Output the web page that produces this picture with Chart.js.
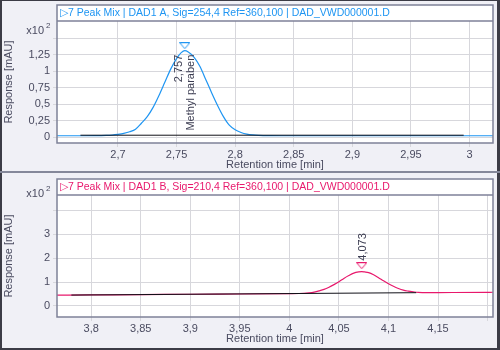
<!DOCTYPE html>
<html>
<head>
<meta charset="utf-8">
<script src="https://cdn.jsdelivr.net/npm/chart.js@4/dist/chart.umd.min.js"></script>
<style>
  body { margin: 0; background: #f0f0f6; }
  #wrap { position: relative; width: 500px; height: 350px; overflow: hidden; background: #f0f0f6; }
  canvas { position: absolute; left: 0; }
  #sigA { top: 0; }
  #sigB { top: 174px; }
  .edge { position: absolute; background: #3c3c46; }
</style>
</head>
<body>
<div id="wrap">
  <canvas id="sigA" width="500" height="174"></canvas>
  <canvas id="sigB" width="500" height="174"></canvas>
  <div class="edge" style="left:0;top:0;width:500px;height:1px"></div>
  <div class="edge" style="left:0;top:0;width:2px;height:350px"></div>
  <div class="edge" style="left:497px;top:0;width:3px;height:350px"></div>
  <div class="edge" style="left:0;top:348px;width:500px;height:2px"></div>
  <div class="edge" style="left:0;top:171px;width:500px;height:2px;background:#85889a"></div>
</div>
<script>
// DAD1 A (254 nm) trace
var timeA = [2.648, 2.66, 2.67, 2.68, 2.69, 2.695, 2.70, 2.705, 2.71, 2.715, 2.72, 2.725, 2.73, 2.735, 2.74, 2.745, 2.75, 2.754, 2.757, 2.76, 2.765, 2.77, 2.775, 2.78, 2.785, 2.79, 2.795, 2.80, 2.805, 2.81, 2.815, 2.82, 2.83, 2.84, 2.86, 2.90, 2.95, 3.00, 3.02];
var respA = [0.02, 0.02, 0.02, 0.021, 0.025, 0.03, 0.04, 0.055, 0.08, 0.12, 0.21, 0.31, 0.45, 0.63, 0.83, 1.03, 1.19, 1.28, 1.31, 1.29, 1.21, 1.07, 0.87, 0.67, 0.48, 0.31, 0.18, 0.11, 0.07, 0.045, 0.033, 0.027, 0.022, 0.02, 0.02, 0.02, 0.02, 0.02, 0.02];
var baseTimeA = [2.668, 2.995];
var baseRespA = [0.028, 0.028];
var peakTimeA = [2.757];
var peakMarkA = [1.385];
var peakNameA = ['Methyl paraben'];
var xTicksA = [2.7, 2.75, 2.8, 2.85, 2.9, 2.95, 3.0];
var xLabelsA = ['2,7', '2,75', '2,8', '2,85', '2,9', '2,95', '3'];
var yTicksA = [0, 0.25, 0.5, 0.75, 1, 1.25, 1.5];
var yLabelsA = ['0', '0,25', '0,5', '0,75', '1', '1,25', ''];

// DAD1 B (210 nm) trace
var timeB = [3.765, 3.8, 3.85, 3.9, 3.95, 4.0, 4.01, 4.02, 4.025, 4.03, 4.035, 4.04, 4.045, 4.05, 4.055, 4.06, 4.065, 4.07, 4.073, 4.076, 4.08, 4.085, 4.09, 4.095, 4.10, 4.105, 4.11, 4.115, 4.12, 4.125, 4.13, 4.14, 4.15, 4.2, 4.206];
var respB = [0.45, 0.46, 0.47, 0.49, 0.50, 0.515, 0.52, 0.55, 0.58, 0.63, 0.69, 0.78, 0.89, 1.01, 1.15, 1.27, 1.37, 1.42, 1.435, 1.42, 1.39, 1.30, 1.18, 1.05, 0.93, 0.82, 0.73, 0.66, 0.62, 0.59, 0.565, 0.558, 0.56, 0.57, 0.572];
var baseTimeB = [3.78, 4.128];
var baseRespB = [0.455, 0.555];
var peakTimeB = [4.073];
var peakMarkB = [1.68];
var peakNameB = [''];
var xTicksB = [3.8, 3.85, 3.9, 3.95, 4.0, 4.05, 4.1, 4.15, 4.2];
var xLabelsB = ['3,8', '3,85', '3,9', '3,95', '4', '4,05', '4,1', '4,15', ''];
var yTicksB = [0, 1, 2, 3, 4];
var yLabelsB = ['0', '1', '2', '3', ''];

var FONT = '"Liberation Sans", Arial, sans-serif';
var INK = '#4a4b60';
var FRAME = '#7e8198';

function pts(xs, ys) {
    return xs.map(function (x, i) { return { x: x, y: ys[i] }; });
}

// open downward triangle used as peak marker
function triangle(color) {
    var c = document.createElement('canvas');
    c.width = 11; c.height = 7;
    var g = c.getContext('2d');
    g.strokeStyle = color;
    g.lineWidth = 1;
    g.beginPath();
    g.moveTo(0.5, 0.5); g.lineTo(10.5, 0.5); g.lineTo(5.5, 6.5); g.closePath();
    g.stroke();
    return c;
}

var panelDecor = {
    id: 'panelDecor',
    beforeDraw: function (chart, args, o) {
        var a = chart.chartArea, ctx = chart.ctx;
        ctx.save();
        ctx.fillStyle = '#ffffff';
        ctx.fillRect(a.left, a.top - 16, a.right - a.left, a.bottom - a.top + 16);
        ctx.restore();
    },
    afterDraw: function (chart, args, o) {
        var a = chart.chartArea, ctx = chart.ctx;
        var xs = chart.scales.x, ys = chart.scales.y;
        ctx.save();
        // frame + title strip
        ctx.strokeStyle = FRAME;
        ctx.lineWidth = 1.5;
        ctx.strokeRect(a.left, a.top - 16, a.right - a.left, a.bottom - a.top + 16);
        ctx.beginPath();
        ctx.moveTo(a.left, a.top); ctx.lineTo(a.right, a.top);
        ctx.stroke();
        ctx.fillStyle = o.color;
        ctx.font = '10.5px ' + FONT;
        ctx.textBaseline = 'middle';
        ctx.textAlign = 'left';
        ctx.fillText(o.title, a.left + 3, a.top - 8);

        // exponent note
        ctx.fillStyle = INK;
        ctx.font = '11px ' + FONT;
        ctx.textAlign = 'right';
        ctx.fillText('x10', 44, o.expY);
        ctx.font = '8px ' + FONT;
        ctx.textAlign = 'left';
        ctx.fillText('2', 46, o.expY - 5);

        // peak annotations
        ctx.font = '11px ' + FONT;
        ctx.fillStyle = '#3c3d52';
        o.peakTime.forEach(function (t, i) {
            var px = xs.getPixelForValue(t);
            var py = ys.getPixelForValue(o.peakMark[i]);
            var rt = t.toFixed(3).replace('.', ',');
            ctx.save();
            if (o.below) {
                ctx.translate(px, py + 9);
                ctx.rotate(-Math.PI / 2);
                ctx.textAlign = 'right';
                ctx.fillText(rt, 0, -6);
                ctx.fillText(o.peakName[i], 0, 6);
            } else {
                ctx.translate(px, py - 5);
                ctx.rotate(-Math.PI / 2);
                ctx.textAlign = 'left';
                ctx.fillText(rt, 0, 1);
            }
            ctx.restore();
        });
        ctx.restore();
    }
};

function makeChart(id, d) {
    var ctx = document.getElementById(id).getContext('2d');
    return new Chart(ctx, {
        type: 'line',
        data: {
            datasets: [{
                data: pts(d.baseTime, d.baseResp),
                borderColor: '#101018',
                borderWidth: 1,
                pointRadius: 0
            }, {
                data: pts(d.time, d.resp),
                borderColor: d.color,
                borderWidth: 1.2,
                pointRadius: 0,
                cubicInterpolationMode: 'monotone'
            }, {
                data: pts(d.peakTime, d.peakMark),
                showLine: false,
                pointStyle: triangle(d.color),
                pointRadius: 5
            }]
        },
        options: {
            responsive: false,
            animation: false,
            devicePixelRatio: 1,
            layout: { padding: { left: 0, right: 7, top: 21, bottom: 0 } },
            plugins: {
                legend: { display: false },
                tooltip: { enabled: false },
                panelDecor: {
                    title: d.title, color: d.color, expY: d.expY,
                    peakTime: d.peakTime, peakMark: d.peakMark, peakName: d.peakName,
                    below: d.below
                }
            },
            scales: {
                x: {
                    type: 'linear',
                    min: d.xMin, max: d.xMax,
                    afterFit: function (s) { s.height = 31; },
                    afterBuildTicks: function (s) { s.ticks = d.xTicks.map(function (v) { return { value: v }; }); },
                    border: { display: false },
                    grid: { color: '#d7d7dc', tickLength: 4 },
                    ticks: {
                        autoSkip: false, maxRotation: 0, padding: 1,
                        color: INK, font: { family: FONT, size: 11 },
                        callback: function (v, i) { return d.xLabels[i]; }
                    },
                    title: {
                        display: true, text: 'Retention time [min]', color: INK,
                        font: { family: FONT, size: 11 }, padding: { top: 0, bottom: 2 }
                    }
                },
                y: {
                    min: d.yMin, max: d.yMax,
                    afterFit: function (s) { s.width = 57; },
                    afterBuildTicks: function (s) { s.ticks = d.yTicks.map(function (v) { return { value: v }; }); },
                    border: { display: false },
                    grid: { color: '#d7d7dc', tickLength: 4 },
                    ticks: {
                        padding: 3, color: INK, font: { family: FONT, size: 11 },
                        callback: function (v, i) { return d.yLabels[i]; }
                    },
                    title: {
                        display: true, text: 'Response [mAU]', color: INK,
                        font: { family: FONT, size: 11 }, padding: { top: 2, bottom: 0 }
                    }
                }
            }
        },
        plugins: [panelDecor]
    });
}

makeChart('sigA', {
    time: timeA, resp: respA, baseTime: baseTimeA, baseResp: baseRespA,
    peakTime: peakTimeA, peakMark: peakMarkA, peakName: peakNameA,
    xTicks: xTicksA, xLabels: xLabelsA, yTicks: yTicksA, yLabels: yLabelsA,
    xMin: 2.648, xMax: 3.02, yMin: -0.09, yMax: 1.76,
    color: '#1e95f2', below: true, expY: 31,
    title: '\u25B77 Peak Mix | DAD1 A, Sig=254,4 Ref=360,100 | DAD_VWD000001.D'
});

makeChart('sigB', {
    time: timeB, resp: respB, baseTime: baseTimeB, baseResp: baseRespB,
    peakTime: peakTimeB, peakMark: peakMarkB, peakName: peakNameB,
    xTicks: xTicksB, xLabels: xLabelsB, yTicks: yTicksB, yLabels: yLabelsB,
    xMin: 3.7655, xMax: 4.2055, yMin: -0.46, yMax: 4.63,
    color: '#e8186c', below: false, expY: 20,
    title: '\u25B77 Peak Mix | DAD1 B, Sig=210,4 Ref=360,100 | DAD_VWD000001.D'
});
</script>
</body>
</html>
